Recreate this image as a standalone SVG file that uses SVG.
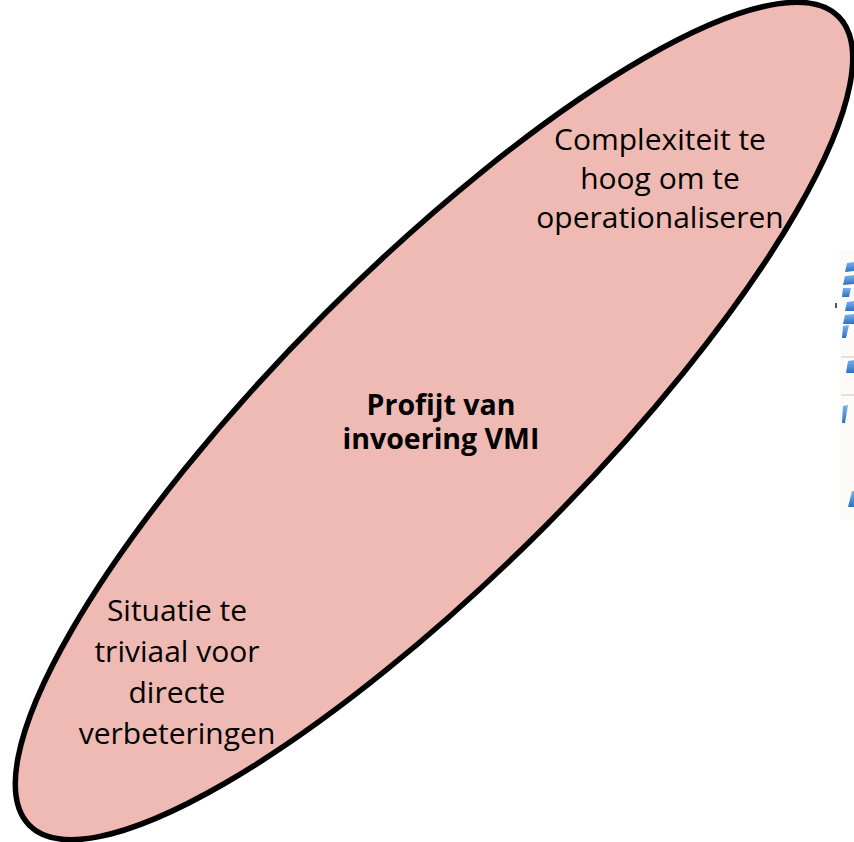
<svg xmlns="http://www.w3.org/2000/svg" width="854" height="842" viewBox="0 0 854 842">
  <style>
    .lbl { font-family: "Open Sans", "Liberation Sans", sans-serif; font-size: 30px; fill: #000; text-anchor: middle; }
    .bold { font-weight: bold; font-size: 28.5px; }
    .blue { fill: url(#bg); }
    .gline { stroke: #c8c8c8; stroke-width: 1; }
  </style>
  <defs>
    <linearGradient id="bg" x1="0" y1="0" x2="0" y2="1">
      <stop offset="0" stop-color="#79b4ee"/>
      <stop offset="1" stop-color="#2f6fc2"/>
    </linearGradient>
  </defs>
  <rect width="854" height="842" fill="#ffffff"/>
  <g id="background-fragment">
    <rect x="840" y="250" width="14" height="270" fill="#fcfbf8"/>
    <path class="blue" d="M847 263 L854 262 L854 271 L845 272 Z"/>
    <path class="blue" d="M845 276 L854 275 L854 284 L843 285 Z"/>
    <path class="blue" d="M843 288 L851 288 L849 297 L842 297 Z"/>
    <rect x="835" y="303" width="2" height="5" fill="#555"/>
    <path class="blue" d="M847 302 L854 301 L854 311 L845 311 Z"/>
    <path class="blue" d="M845 315 L854 314 L854 324 L843 324 Z"/>
    <path class="blue" d="M843 326 L849 325 L846 338 L842 338 Z"/>
    <line class="gline" x1="841" y1="357" x2="854" y2="357"/>
    <path class="blue" d="M848 361 L854 360 L854 373 L846 373 Z"/>
    <line class="gline" x1="841" y1="395" x2="854" y2="395"/>
    <path class="blue" d="M843 406 L848 405 L845 423 L842 423 Z"/>
    <path class="blue" d="M852 491 L854 491 L854 507 L848 507 Z"/>
  </g>
  <g id="ellipse-node">
    <ellipse cx="434" cy="421" rx="572" ry="153" transform="rotate(-45 434 421)" fill="#efbab4" stroke="#000" stroke-width="5.5"/>
  </g>
  <g id="top-label">
    <text class="lbl" x="660" y="150">Complexiteit te</text>
    <text class="lbl" x="660" y="189">hoog om te</text>
    <text class="lbl" x="660" y="228">operationaliseren</text>
  </g>
  <g id="center-label">
    <text class="lbl bold" x="441" y="415">Profijt van</text>
    <text class="lbl bold" x="441" y="449">invoering VMI</text>
  </g>
  <g id="bottom-label">
    <text class="lbl" x="177" y="621">Situatie te</text>
    <text class="lbl" x="177" y="662">triviaal voor</text>
    <text class="lbl" x="177" y="703">directe</text>
    <text class="lbl" x="177" y="744">verbeteringen</text>
  </g>
  <g id="connectors"/>
</svg>
